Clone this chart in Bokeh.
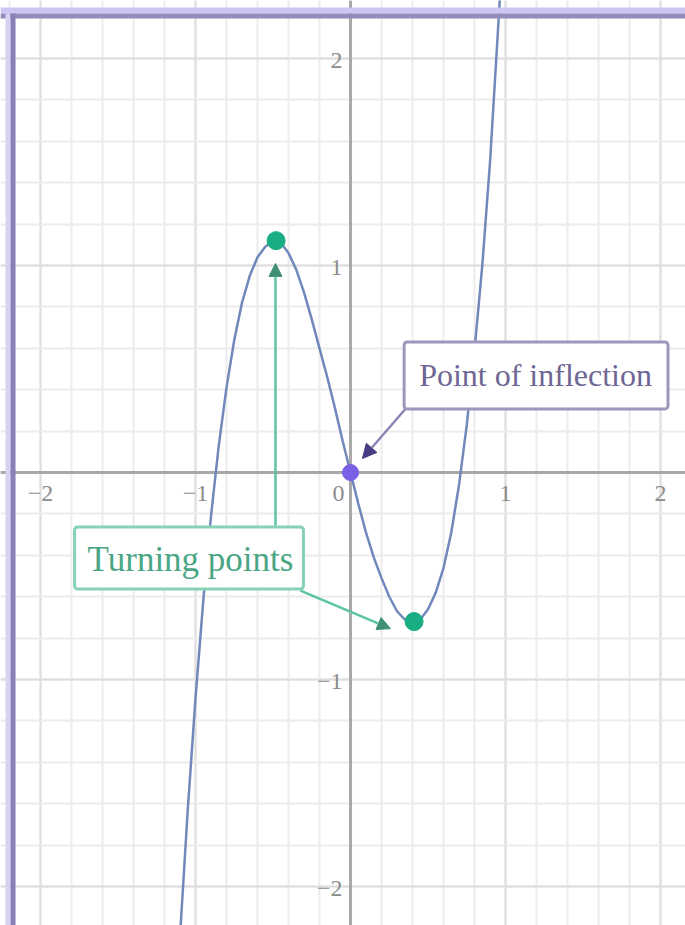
from bokeh.plotting import figure
from bokeh.models import (Span, BoxAnnotation, Label, Arrow, NormalHead,
                          SingleIntervalTicker)
from bokeh.core.properties import value
from bokeh.embed import file_html
from bokeh.resources import INLINE

# ---- data ----
curve_x = [-1.10, -1.05, -1.00, -0.95, -0.90, -0.85, -0.80, -0.75, -0.70, -0.65,
           -0.60, -0.55, -0.50, -0.45, -0.40, -0.35, -0.30, -0.25, -0.20, -0.15,
           -0.10, -0.05, 0.00, 0.05, 0.10, 0.15, 0.20, 0.25, 0.30, 0.35,
           0.40, 0.45, 0.50, 0.55, 0.60, 0.65, 0.70, 0.75, 0.80, 0.85,
           0.90, 0.95, 1.00]
curve_y = [-2.24, -1.63, -1.09, -0.62, -0.21, 0.13, 0.41, 0.64, 0.82, 0.95,
           1.04, 1.09, 1.12, 1.11, 1.06, 0.98, 0.87, 0.74, 0.60, 0.46,
           0.31, 0.15, 0.00, -0.15, -0.29, -0.41, -0.51, -0.60, -0.67, -0.71,
           -0.72, -0.71, -0.66, -0.58, -0.46, -0.29, -0.06, 0.23, 0.59, 1.00,
           1.50, 2.12, 2.75]

turning_x = [-0.48, 0.41]
turning_y = [1.12, -0.72]
inflection_x = [0.0]
inflection_y = [0.0]

x_tick_values = [-2, -1, 1, 2]
x_tick_labels = ["\u22122", "\u22121", "1", "2"]
zero_label = ["0"]
y_tick_values = [-2, -1, 1, 2]
y_tick_labels = ["\u22122", "\u22121", "1", "2"]

turning_label = "Turning points"
turning_label_pos = (-1.042, -0.413)
inflection_label = "Point of inflection"
inflection_label_pos = (1.197, 0.469)

# arrows: (x_start, y_start, x_end, y_end)
turning_arrows = [(-0.484, -0.256, -0.484, 1.01),
                  (-0.323, -0.570, 0.258, -0.754)]
inflection_arrow = (0.368, 0.319, 0.077, 0.068)

X_RANGE = (-2.258, 2.161)
Y_RANGE = (-2.188, 2.280)

# ---- figure ----
p = figure(width=685, height=925, x_range=X_RANGE, y_range=Y_RANGE,
           x_axis_location=None, y_axis_location=None,
           output_backend="svg", toolbar_location=None, min_border=0)
p.outline_line_color = None
p.background_fill_color = "white"
p.border_fill_color = "white"

for g in (p.xgrid, p.ygrid):
    g.ticker = SingleIntervalTicker(interval=1, num_minor_ticks=5)
    g.grid_line_color = "#dedede"
    g.grid_line_width = 2
    g.minor_grid_line_color = "#ececec"
    g.minor_grid_line_width = 2

# axes through origin
p.add_layout(Span(location=0, dimension="width", line_color="#a8a8a8",
                  line_width=3, level="underlay"))
p.add_layout(Span(location=0, dimension="height", line_color="#a8a8a8",
                  line_width=3, level="underlay"))

# curve and points
p.line(curve_x, curve_y, line_color="#7088bb", line_width=2.5)
p.scatter(turning_x, turning_y, size=18, fill_color="#18ad82",
          line_color="#18ad82")
p.scatter(inflection_x, inflection_y, size=16, fill_color="#7b5fe4",
          line_color="#7b5fe4")

# tick labels
tick_font = value("Liberation Serif")
p.text(x=x_tick_values, y=[0] * len(x_tick_values), text=x_tick_labels,
       y_offset=21, text_align="center", text_baseline="middle",
       text_font=tick_font, text_font_size="24px", text_color="#8c8c8c")
p.text(x=[0], y=[0], text=zero_label, x_offset=-12, y_offset=21,
       text_align="center", text_baseline="middle",
       text_font=tick_font, text_font_size="24px", text_color="#8c8c8c")
p.text(x=[0] * len(y_tick_values), y=y_tick_values, text=y_tick_labels,
       x_offset=-8, y_offset=2, text_align="right", text_baseline="middle",
       text_font=tick_font, text_font_size="24px", text_color="#8c8c8c")

# arrows
for xs, ys, xe, ye in turning_arrows:
    p.add_layout(Arrow(x_start=xs, y_start=ys, x_end=xe, y_end=ye,
                       line_color="#5cc49e", line_width=2.5,
                       end=NormalHead(size=13, fill_color="#3f8f72",
                                      line_color="#3f8f72")))
xs, ys, xe, ye = inflection_arrow
p.add_layout(Arrow(x_start=xs, y_start=ys, x_end=xe, y_end=ye,
                   line_color="#8c84b4", line_width=2.5,
                   end=NormalHead(size=14, fill_color="#4a3c84",
                                  line_color="#4a3c84")))

# labels
p.add_layout(Label(x=turning_label_pos[0], y=turning_label_pos[1],
                   text=turning_label, text_align="center",
                   text_baseline="middle", text_font="Liberation Serif",
                   text_font_size="35px", text_color="#4aa585",
                   background_fill_color="white", background_fill_alpha=1,
                   border_line_color="#86d2b4", border_line_width=3,
                   padding=(13, 10, 13, 10), border_radius=3))
p.add_layout(Label(x=inflection_label_pos[0], y=inflection_label_pos[1],
                   text=inflection_label, text_align="center",
                   text_baseline="middle", text_font="Liberation Serif",
                   text_font_size="32px", text_color="#6e6694",
                   background_fill_color="white", background_fill_alpha=1,
                   border_line_color="#9d96bd", border_line_width=3,
                   padding=(15, 16, 15, 16), border_radius=3))

# purple frame edges (top and left)
p.add_layout(BoxAnnotation(top=2.2464, bottom=2.2174, fill_color="#cdc6f3",
                           fill_alpha=1, line_alpha=0))
p.add_layout(BoxAnnotation(top=2.2174, bottom=2.1932, fill_color="#958bbd",
                           fill_alpha=1, line_alpha=0))
p.add_layout(BoxAnnotation(left=-2.2258, right=-2.1935, fill_color="#d8d3f3",
                           fill_alpha=1, line_alpha=0, bottom=-2.188, top=2.2174))
p.add_layout(BoxAnnotation(left=-2.1935, right=-2.161, fill_color="#8a80b8",
                           fill_alpha=1, line_alpha=0, bottom=-2.188, top=2.2174))

open("out.html", "w").write(file_html(p, INLINE))
